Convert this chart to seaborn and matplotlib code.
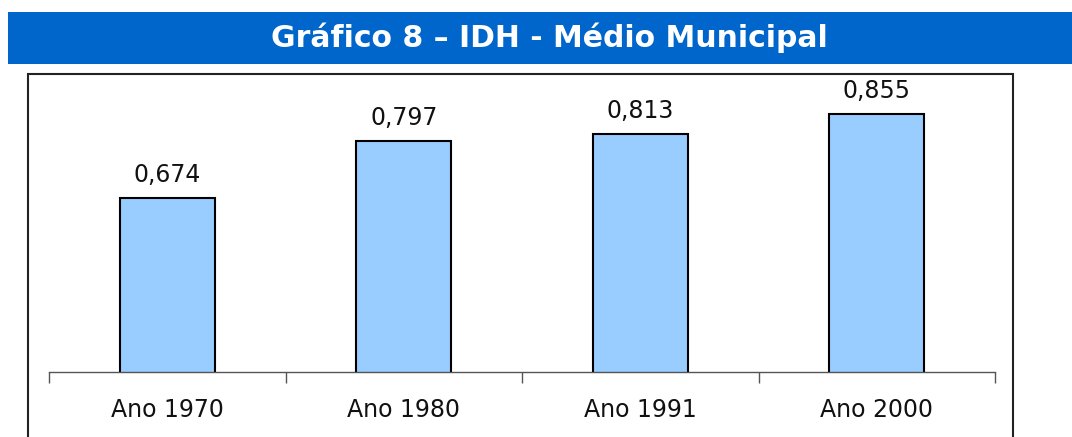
import numpy as np
import pandas as pd
import matplotlib
matplotlib.use('Agg')
import matplotlib.pyplot as plt
import seaborn as sns
from matplotlib.patches import Rectangle

# Données
categorias = ['Ano 1970', 'Ano 1980', 'Ano 1991', 'Ano 2000']
idh = [0.674, 0.797, 0.813, 0.855]
titulo = 'Gráfico 8 – IDH - Médio Municipal'

df = pd.DataFrame({'Ano': categorias, 'IDH': idh})

sns.set_style('white')
plt.rcParams['font.family'] = ['DejaVu Sans']

W, H = 1072, 437
fig = plt.figure(figsize=(W / 100, H / 100), dpi=100)

# Bandeau bleu du titre
fig.patches.append(Rectangle((8 / W, 1 - 64 / H), (1072 - 8) / W, 52 / H,
                             transform=fig.transFigure, facecolor='#0066CC',
                             edgecolor='none', zorder=0))
fig.text(549 / W, 1 - 38 / H, titulo, color='white', fontsize=21.5,
         fontweight='bold', ha='center', va='center')

# Cadre du graphique
fig.patches.append(Rectangle((28 / W, -0.05), (1013 - 28) / W, 1 - 74 / H + 0.05,
                             transform=fig.transFigure, facecolor='none',
                             edgecolor='#222222', linewidth=1.5, zorder=0))

ax = fig.add_axes([49 / W, 1 - 372 / H, (995 - 49) / W, (372 - 74) / H])
sns.barplot(data=df, x='Ano', y='IDH', color='#99CCFF', edgecolor='black',
            linewidth=1.5, width=0.4, saturation=1, ax=ax)
ax.set_ylim(0.3, 0.3 + 298 / 464)
ax.set_xlim(-0.5, len(categorias) - 0.5)

for c in ax.containers:
    ax.bar_label(c, labels=[f'{v:.3f}'.replace('.', ',') for v in idh],
                 padding=8, fontsize=17, color='#111111')

ax.set_xlabel('')
ax.set_ylabel('')
ax.set_yticks([])
ax.set_xticks(np.arange(-0.5, len(categorias)), minor=True)
ax.tick_params(axis='x', which='minor', bottom=True, length=8, width=1,
               color='#555555', direction='out')
ax.tick_params(axis='x', which='major', length=0, labelsize=17, pad=19, labelcolor='#111111')
for s in ['top', 'right', 'left']:
    ax.spines[s].set_visible(False)
ax.spines['bottom'].set_color('#555555')
ax.spines['bottom'].set_linewidth(1)
ax.patch.set_alpha(0)

fig.savefig('out.png', dpi=100)
